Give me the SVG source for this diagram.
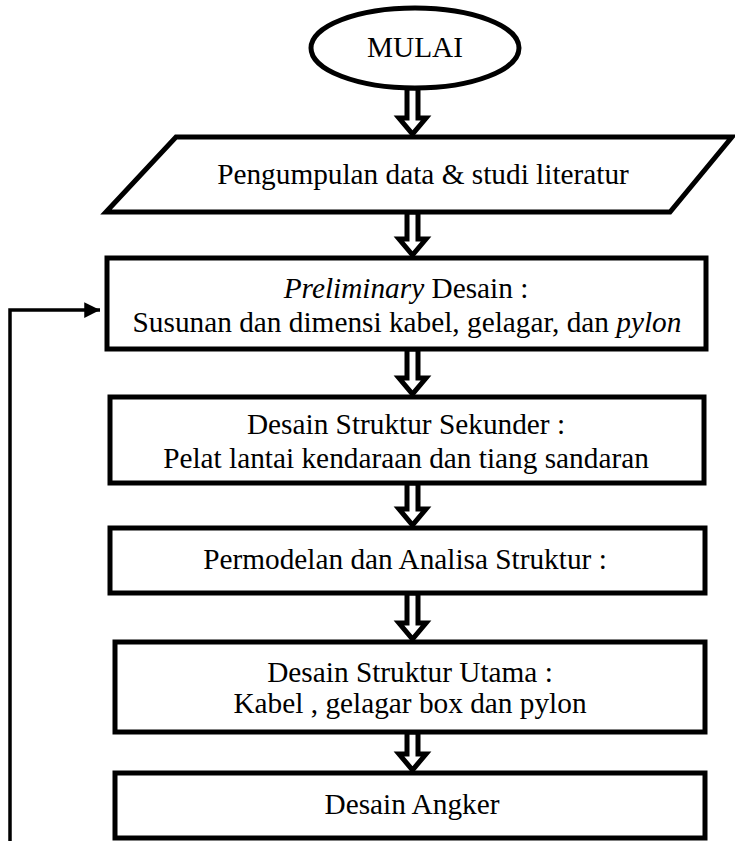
<svg xmlns="http://www.w3.org/2000/svg" width="735" height="841" viewBox="0 0 735 841">
<style>
.node{fill:#fff;stroke:#000;stroke-width:5;stroke-linejoin:miter}
.t{font-family:"Liberation Serif","Times New Roman",serif;font-size:29.3px;fill:#000;text-anchor:middle}
.blk{fill:#fff;stroke:#000;stroke-width:5;stroke-linejoin:miter;stroke-miterlimit:10}
.ln{fill:none;stroke:#000;stroke-width:3.5}
</style>
<defs>
<marker id="ah" viewBox="0 0 10 10" refX="10" refY="5" markerWidth="4.5" markerHeight="4.5" markerUnits="strokeWidth" orient="auto">
<path d="M0,0 L10,5 L0,10 z" fill="#000"/>
</marker>
</defs>
<rect width="735" height="841" fill="#fff"/>
<g id="connectors">
<path class="blk" d="M407,88 L418,88 L418,118 L426,118 L412.5,134 L399,118 L407,118 z"/>
<path class="blk" d="M407,212 L418,212 L418,239 L426,239 L412.5,255 L399,239 L407,239 z"/>
<path class="blk" d="M407,349 L418,349 L418,378 L426,378 L412.5,394 L399,378 L407,378 z"/>
<path class="blk" d="M407,483 L418,483 L418,509 L426,509 L412.5,525 L399,509 L407,509 z"/>
<path class="blk" d="M407,593 L418,593 L418,623 L426,623 L412.5,639 L399,623 L407,623 z"/>
<path class="blk" d="M407,732 L418,732 L418,754 L426,754 L412.5,770 L399,754 L407,754 z"/>
<path class="ln" d="M10,841 L10,310 L100,310" marker-end="url(#ah)"/>
</g>
<g id="mulai">
<ellipse class="node" cx="415" cy="48" rx="104" ry="40"/>
<text class="t" x="415" y="57">MULAI</text>
</g>
<g id="pengumpulan">
<polygon class="node" points="176,137 732,137 670,212 106,212"/>
<text class="t" x="423" y="184">Pengumpulan data &amp; studi literatur</text>
</g>
<g id="preliminary">
<rect class="node" x="107" y="258" width="599" height="91"/>
<text class="t" x="406" y="298"><tspan font-style="italic">Preliminary</tspan> Desain :</text>
<text class="t" x="407" y="332">Susunan dan dimensi kabel, gelagar, dan <tspan font-style="italic">pylon</tspan></text>
</g>
<g id="sekunder">
<rect class="node" x="110" y="397" width="594" height="86"/>
<text class="t" x="406" y="434">Desain Struktur Sekunder :</text>
<text class="t" x="406" y="468">Pelat lantai kendaraan dan tiang sandaran</text>
</g>
<g id="permodelan">
<rect class="node" x="110" y="528" width="595" height="65"/>
<text class="t" x="405" y="569">Permodelan dan Analisa Struktur :</text>
</g>
<g id="utama">
<rect class="node" x="115" y="642" width="590" height="90"/>
<text class="t" x="410" y="682">Desain Struktur Utama :</text>
<text class="t" x="410" y="713">Kabel , gelagar box dan pylon</text>
</g>
<g id="angker">
<rect class="node" x="115" y="773" width="590" height="65"/>
<text class="t" x="412" y="814">Desain Angker</text>
</g>
</svg>
